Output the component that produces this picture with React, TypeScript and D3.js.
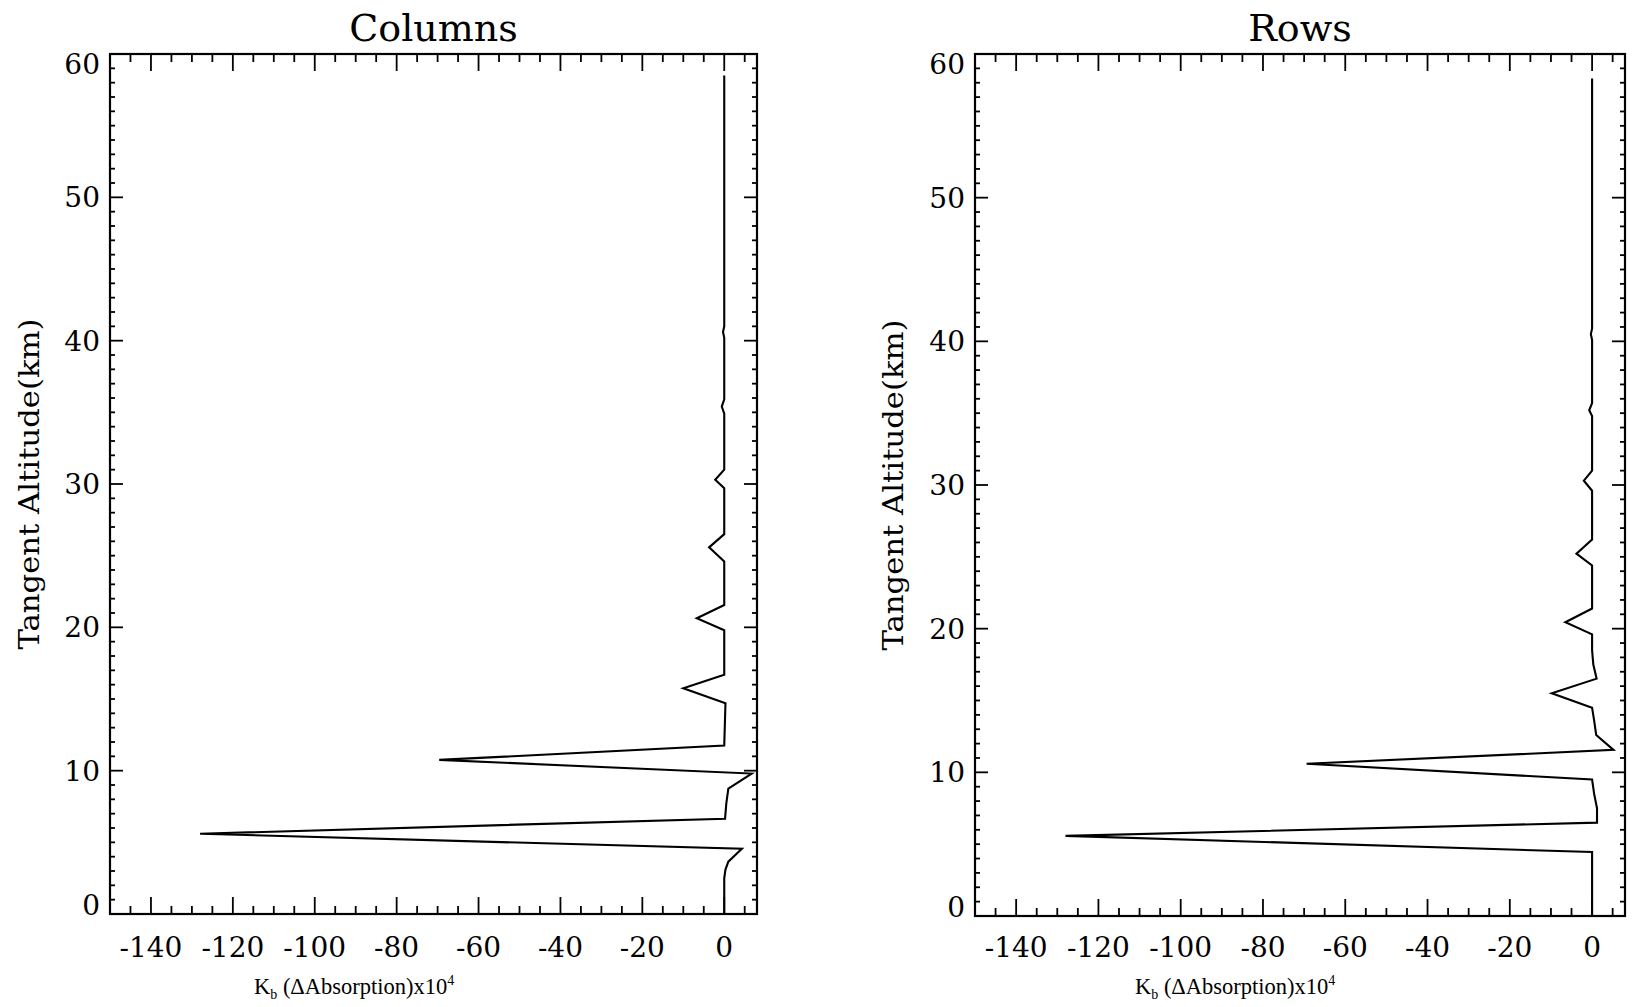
import React from "react";
import * as d3 from "d3";

// ---------- data ----------
const panelTitles = ["Columns", "Rows"];

// Columns panel: tangent altitude (km) and Kb (ΔAbsorption)x10^4
const colAlt = [0, 2.5, 3.1, 3.65, 4.55, 5.6, 6.65, 7.7, 8.75, 9.8, 10.75, 11.75, 13.7, 14.7, 15.75, 16.7, 19.8, 20.63, 21.56, 24.6, 25.58, 26.5, 29.7, 30.3, 31.0, 34.9, 35.4, 35.9, 40.2, 40.6, 41.0, 58.5];
const colVal = [0, 0, 0.3, 1.0, 4.3, -128, 0.2, 0.5, 1.0, 6.7, -69.6, 0, 0.2, 0.3, -10, 0, 0, -6.7, 0, 0, -3.7, 0, 0, -2.2, 0, 0, -0.6, 0, 0, -0.3, 0, 0];

// Rows panel
const rowAlt = [0, 4.45, 5.58, 6.5, 7.5, 8.5, 9.5, 10.6, 11.56, 12.6, 13.6, 14.5, 15.5, 16.52, 17.5, 18.5, 19.6, 20.45, 21.4, 24.4, 25.22, 26.2, 29.6, 30.3, 31.0, 34.8, 35.2, 35.7, 40.1, 40.5, 40.9, 58.3];
const rowVal = [0, 0, -128, 1.2, 1.2, 0.5, 0, -69.4, 5.2, 1.0, 0.5, 0, -9.8, 1.1, 0.3, 0, 0, -6.5, 0, 0, -3.8, 0, 0, -2.0, 0, 0, -0.7, 0, 0, -0.3, 0, 0];

const xMajorTicks = [-140, -120, -100, -80, -60, -40, -20, 0];
const yMajorTicks = [0, 10, 20, 30, 40, 50, 60];
const xDomain = [-150, 8];
const yDomain = [0, 60];

const FONT = "'DejaVu Serif', serif";
const TITLE_FONT = "'Liberation Serif', 'DejaVu Serif', serif";

type PanelProps = {
  title: string;
  alt: number[];
  val: number[];
  left: number;
  right: number;
  top: number;
  bottom: number;
  xTitleStart: number;
  yTitleX: number;
};

function Panel({ title, alt, val, left, right, top, bottom, xTitleStart, yTitleX }: PanelProps) {
  const x = d3.scaleLinear().domain(xDomain).range([left, right]);
  const y = d3.scaleLinear().domain(yDomain).range([bottom, top]);
  const pts: [number, number][] = alt.map((a, i) => [val[i], a]);
  const line = d3
    .line<[number, number]>()
    .x((d) => x(d[0]))
    .y((d) => y(d[1]));

  const xMinor = d3.range(-145, 8, 5).filter((v) => !xMajorTicks.includes(v));
  const yMinor = d3.range(1, 60, 1).filter((v) => !yMajorTicks.includes(v));

  const cx = (left + right) / 2;
  const yMid = (top + bottom) / 2;

  return (
    <g>
      <text x={cx} y={41} textAnchor="middle" fontFamily={FONT} fontSize={38} fill="#000">
        {title}
      </text>
      {/* curve */}
      <path d={line(pts) || ""} fill="none" stroke="#000" strokeWidth={2.1} strokeLinejoin="miter" />
      {/* box */}
      <rect x={left} y={top} width={right - left} height={bottom - top} fill="none" stroke="#000" strokeWidth={2.2} />
      {/* x ticks bottom/top */}
      {xMajorTicks.map((v) => (
        <g key={"xM" + v}>
          <line x1={x(v)} x2={x(v)} y1={bottom} y2={bottom - 17} stroke="#000" strokeWidth={1.8} />
          <line x1={x(v)} x2={x(v)} y1={top} y2={top + 17} stroke="#000" strokeWidth={1.8} />
          <text x={x(v)} y={957} textAnchor="middle" fontFamily={FONT} fontSize={28} fill="#000">
            {v}
          </text>
        </g>
      ))}
      {xMinor.map((v) => (
        <g key={"xm" + v}>
          <line x1={x(v)} x2={x(v)} y1={bottom} y2={bottom - 8} stroke="#000" strokeWidth={1.8} />
          <line x1={x(v)} x2={x(v)} y1={top} y2={top + 8} stroke="#000" strokeWidth={1.8} />
        </g>
      ))}
      {/* y ticks left/right */}
      {yMajorTicks.map((v) => {
        const ty = Math.min(Math.max(y(v), top + 9.5), bottom - 9);
        return (
          <g key={"yM" + v}>
            <line x1={left} x2={left + 13} y1={y(v)} y2={y(v)} stroke="#000" strokeWidth={1.8} />
            <line x1={right} x2={right - 13} y1={y(v)} y2={y(v)} stroke="#000" strokeWidth={1.8} />
            <text x={left - 10} y={ty + 10} textAnchor="end" fontFamily={FONT} fontSize={28} fill="#000">
              {v}
            </text>
          </g>
        );
      })}
      {yMinor.map((v) => (
        <g key={"ym" + v}>
          <line x1={left} x2={left + 5} y1={y(v)} y2={y(v)} stroke="#000" strokeWidth={1.8} />
          <line x1={right} x2={right - 5} y1={y(v)} y2={y(v)} stroke="#000" strokeWidth={1.8} />
        </g>
      ))}
      {/* axis titles */}
      <text x={xTitleStart} y={994} fontFamily={TITLE_FONT} fontSize={22.5} fill="#000">
        K<tspan fontSize={14} dy={5}>b</tspan>
        <tspan dy={-5}> (ΔAbsorption)x10</tspan>
        <tspan fontSize={14} dy={-9}>4</tspan>
      </text>
      <text
        transform={`translate(${yTitleX},${yMid}) rotate(-90)`}
        textAnchor="middle"
        fontFamily={FONT}
        fontSize={28}
        fill="#000"
        textLength={331}
        lengthAdjust="spacingAndGlyphs"
      >
        Tangent Altitude(km)
      </text>
    </g>
  );
}

export default function App() {
  return (
    <svg
      width={1635}
      height={1007}
      style={{ position: "absolute", left: 0, top: 0, background: "#fff" }}
    >
      <rect x={0} y={0} width={1635} height={1007} fill="#fff" />
      <Panel
        title={panelTitles[0]}
        alt={colAlt}
        val={colVal}
        left={110}
        right={757}
        top={54}
        bottom={914}
        xTitleStart={254}
        yTitleX={39}
      />
      <Panel
        title={panelTitles[1]}
        alt={rowAlt}
        val={rowVal}
        left={975}
        right={1625}
        top={54}
        bottom={916}
        xTitleStart={1135}
        yTitleX={903}
      />
    </svg>
  );
}
